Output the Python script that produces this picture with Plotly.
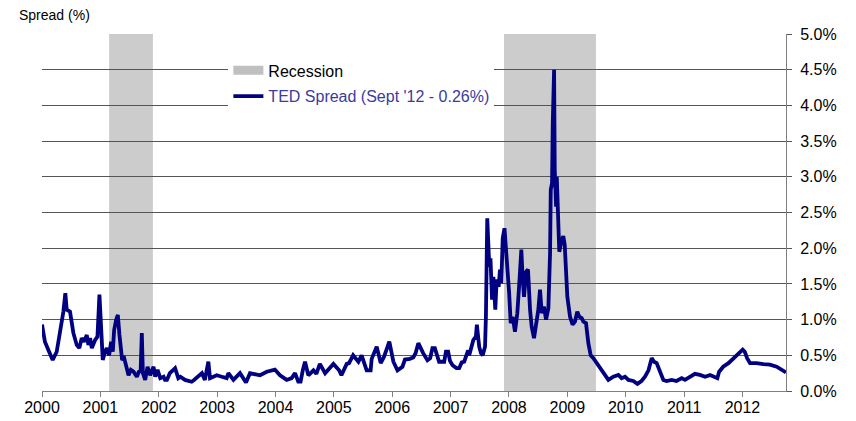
import plotly.graph_objects as go

# TED spread (%), decimal-year dates
ted_year = [
    2000.000, 2000.050, 2000.109, 2000.183, 2000.252, 2000.320, 2000.366, 2000.400, 2000.423, 2000.480,
    2000.509, 2000.538, 2000.595, 2000.640, 2000.680, 2000.720, 2000.767, 2000.795, 2000.824, 2000.853,
    2000.910, 2000.950, 2000.984, 2001.007, 2001.024, 2001.041, 2001.080, 2001.110, 2001.150, 2001.184,
    2001.213, 2001.236, 2001.270, 2001.299, 2001.327, 2001.350, 2001.373, 2001.408, 2001.442, 2001.482,
    2001.522, 2001.568, 2001.625, 2001.660, 2001.690, 2001.710, 2001.728, 2001.768, 2001.808, 2001.854,
    2001.911, 2001.940, 2001.980, 2002.026, 2002.083, 2002.107, 2002.140, 2002.190, 2002.255, 2002.280,
    2002.335, 2002.370, 2002.450, 2002.564, 2002.600, 2002.680, 2002.740, 2002.790, 2002.850, 2002.878,
    2002.993, 2003.080, 2003.164, 2003.193, 2003.280, 2003.392, 2003.450, 2003.495, 2003.563, 2003.630,
    2003.735, 2003.850, 2003.963, 2003.990, 2004.077, 2004.192, 2004.277, 2004.335, 2004.390, 2004.430,
    2004.470, 2004.506, 2004.563, 2004.650, 2004.700, 2004.760, 2004.850, 2004.946, 2004.992, 2005.090,
    2005.130, 2005.220, 2005.260, 2005.330, 2005.420, 2005.476, 2005.562, 2005.630, 2005.648, 2005.734,
    2005.790, 2005.803, 2005.860, 2005.950, 2006.020, 2006.090, 2006.175, 2006.218, 2006.300, 2006.360,
    2006.400, 2006.447, 2006.530, 2006.603, 2006.650, 2006.689, 2006.730, 2006.803, 2006.890, 2006.920,
    2006.958, 2006.990, 2007.033, 2007.100, 2007.147, 2007.190, 2007.233, 2007.300, 2007.319, 2007.376,
    2007.390, 2007.433, 2007.450, 2007.490, 2007.520, 2007.550, 2007.590, 2007.605, 2007.628, 2007.663,
    2007.683, 2007.710, 2007.733, 2007.766, 2007.789, 2007.823, 2007.846, 2007.869, 2007.893, 2007.923,
    2007.949, 2007.971, 2008.003, 2008.030, 2008.063, 2008.103, 2008.143, 2008.177, 2008.212, 2008.233,
    2008.258, 2008.293, 2008.326, 2008.361, 2008.389, 2008.429, 2008.463, 2008.503, 2008.532, 2008.561,
    2008.601, 2008.635, 2008.675, 2008.704, 2008.716, 2008.738, 2008.750, 2008.773, 2008.784, 2008.807,
    2008.819, 2008.841, 2008.862, 2008.900, 2008.930, 2008.955, 2008.975, 2009.000, 2009.046, 2009.090,
    2009.130, 2009.170, 2009.205, 2009.246, 2009.275, 2009.320, 2009.360, 2009.400, 2009.446, 2009.503,
    2009.560, 2009.617, 2009.703, 2009.788, 2009.874, 2009.930, 2009.988, 2010.045, 2010.130, 2010.200,
    2010.270, 2010.330, 2010.390, 2010.445, 2010.485, 2010.530, 2010.590, 2010.645, 2010.700, 2010.788,
    2010.870, 2010.959, 2011.016, 2011.100, 2011.186, 2011.270, 2011.360, 2011.445, 2011.530, 2011.570,
    2011.600, 2011.670, 2011.760, 2011.845, 2011.930, 2012.004, 2012.040, 2012.080, 2012.130, 2012.240,
    2012.358, 2012.470, 2012.586, 2012.670, 2012.746,
]
ted_spread = [
    0.93, 0.69, 0.575, 0.435, 0.55, 0.855, 1.11, 1.37, 1.14, 1.11,
    0.95, 0.81, 0.645, 0.60, 0.74, 0.69, 0.785, 0.645, 0.74, 0.60,
    0.715, 0.76, 1.35, 1.04, 0.62, 0.435, 0.55, 0.60, 0.50, 0.69,
    0.55, 0.855, 0.995, 1.065, 0.785, 0.575, 0.435, 0.46, 0.36, 0.22,
    0.295, 0.27, 0.20, 0.27, 0.28, 0.81, 0.25, 0.155, 0.34, 0.22,
    0.34, 0.20, 0.295, 0.18, 0.20, 0.155, 0.155, 0.25, 0.30, 0.32,
    0.18, 0.20, 0.155, 0.13, 0.15, 0.20, 0.25, 0.155, 0.41, 0.18,
    0.22, 0.20, 0.18, 0.25, 0.155, 0.25, 0.18, 0.12, 0.25, 0.24,
    0.22, 0.27, 0.29, 0.30, 0.22, 0.155, 0.18, 0.25, 0.13, 0.13,
    0.30, 0.41, 0.22, 0.29, 0.24, 0.38, 0.25, 0.34, 0.38, 0.29,
    0.22, 0.38, 0.39, 0.50, 0.41, 0.50, 0.29, 0.29, 0.45, 0.62,
    0.41, 0.39, 0.48, 0.69, 0.41, 0.29, 0.34, 0.44, 0.45, 0.47,
    0.53, 0.67, 0.53, 0.43, 0.46, 0.60, 0.60, 0.41, 0.41, 0.55,
    0.55, 0.42, 0.36, 0.32, 0.32, 0.40, 0.41, 0.57, 0.50, 0.71,
    0.715, 0.76, 0.93, 0.62, 0.53, 0.50, 0.62, 1.04, 2.42, 1.74,
    1.86, 1.28, 1.60, 1.14, 1.56, 1.46, 1.70, 1.51, 2.14, 2.28,
    2.02, 1.70, 1.37, 0.95, 1.04, 0.83, 1.09, 1.51, 1.98, 1.60,
    1.32, 1.67, 1.70, 1.14, 0.90, 0.74, 0.90, 1.14, 1.42, 1.09,
    1.18, 1.00, 1.16, 1.93, 2.82, 2.91, 3.75, 4.50, 3.10, 2.58,
    3.00, 2.58, 1.95, 2.10, 2.17, 2.05, 1.56, 1.32, 1.04, 0.93,
    0.97, 1.11, 1.04, 1.02, 0.97, 0.95, 0.67, 0.50, 0.46, 0.39,
    0.32, 0.25, 0.155, 0.20, 0.225, 0.18, 0.20, 0.155, 0.14, 0.10,
    0.14, 0.20, 0.29, 0.46, 0.41, 0.39, 0.25, 0.155, 0.14, 0.155,
    0.14, 0.18, 0.155, 0.20, 0.24, 0.225, 0.20, 0.225, 0.20, 0.18,
    0.27, 0.34, 0.39, 0.46, 0.53, 0.58, 0.55, 0.46, 0.39, 0.39,
    0.375, 0.37, 0.34, 0.29, 0.26,
]

# NBER recessions (decimal years)
rec_start = [2001.15, 2007.915]
rec_end = [2001.90, 2009.49]

year_ticks = list(range(2000, 2013))
year_labels = [str(y) for y in year_ticks]
y_ticks = [i * 0.5 for i in range(11)]
y_labels = [f"{v:.1f}%" for v in y_ticks]

FONT = "Arial, Liberation Sans, sans-serif"
NAVY = "#000080"
REC = "#cccccc"

fig = go.Figure()

# legend entry for recession shading
fig.add_trace(go.Scatter(
    x=[None], y=[None], mode="lines", name="Recession",
    line=dict(color="#c0c0c0", width=9), legendgroup="a",
))
fig.add_trace(go.Scatter(
    x=ted_year, y=ted_spread, mode="lines",
    name="<span style='color:#3b3b9e'>TED Spread (Sept '12 - 0.26%)</span>",
    line=dict(color=NAVY, width=3.8), legendgroup="b",
))

for s, e in zip(rec_start, rec_end):
    fig.add_shape(type="rect", xref="x", yref="paper", x0=s, x1=e, y0=0, y1=1,
                  fillcolor=REC, line=dict(width=0), layer="below")

fig.add_annotation(text="Spread (%)", xref="paper", yref="paper",
                   x=-0.034, y=1.053, xanchor="left", yanchor="middle",
                   showarrow=False, font=dict(family=FONT, size=14, color="#000000"))

fig.update_layout(
    width=856, height=421,
    margin=dict(l=42, r=70, t=34, b=30, autoexpand=False),
    paper_bgcolor="white", plot_bgcolor="white",
    font=dict(family=FONT, size=16, color="#000000"),
    showlegend=True,
    legend=dict(x=0.2505, y=0.9456, xanchor="left", yanchor="top",
                bgcolor="white", borderwidth=0,
                traceorder="grouped", tracegroupgap=2,
                font=dict(family=FONT, size=16)),
    xaxis=dict(range=[2000, 2012.746], tickvals=year_ticks, ticktext=year_labels,
               showgrid=False, zeroline=False, showline=True, linecolor="#808080",
               linewidth=1, ticks="outside", ticklen=5, tickcolor="#808080",
               automargin=False, ticklabelstandoff=-3,
               tickfont=dict(family=FONT, size=16)),
    yaxis=dict(range=[0, 5], side="right", tickvals=y_ticks, ticktext=y_labels,
               showgrid=True, gridcolor="#555555", gridwidth=1, zeroline=False,
               showline=True, linecolor="#808080", linewidth=1,
               ticks="outside", ticklen=5, tickcolor="#555555",
               automargin=False, ticklabelstandoff=5,
               tickfont=dict(family=FONT, size=16)),
)

fig.write_html("out.html", config={"displayModeBar": False},
               post_script="document.body.style.margin='0';")
